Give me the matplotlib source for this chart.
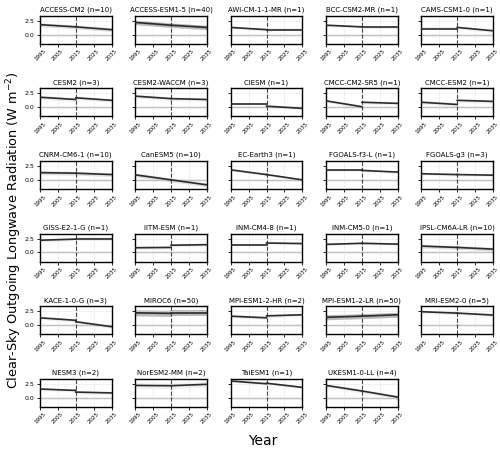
import matplotlib
matplotlib.use("Agg")
import matplotlib.pyplot as plt
import numpy as np

# model names and ensemble sizes
models = ["ACCESS-CM2", "ACCESS-ESM1-5", "AWI-CM-1-1-MR", "BCC-CSM2-MR", "CAMS-CSM1-0",
          "CESM2", "CESM2-WACCM", "CIESM", "CMCC-CM2-SR5", "CMCC-ESM2",
          "CNRM-CM6-1", "CanESM5", "EC-Earth3", "FGOALS-f3-L", "FGOALS-g3",
          "GISS-E2-1-G", "IITM-ESM", "INM-CM4-8", "INM-CM5-0", "IPSL-CM6A-LR",
          "KACE-1-0-G", "MIROC6", "MPI-ESM1-2-HR", "MPI-ESM1-2-LR", "MRI-ESM2-0",
          "NESM3", "NorESM2-MM", "TaiESM1", "UKESM1-0-LL"]
n_members = [10, 40, 1, 1, 1,
             3, 3, 1, 1, 1,
             10, 10, 1, 1, 3,
             1, 1, 1, 1, 10,
             3, 50, 2, 50, 5,
             2, 2, 1, 4]

# historical trend (1995 -> 2015) and projection trend (2015 -> 2035), W m-2
hist_start = [1.8, 2.2, 1.3, 1.7, 1.1,
              1.8, 2.0, 0.65, 1.15, 0.9,
              1.3, 0.9, 1.8, 1.7, 1.1,
              2.2, 0.85, 1.35, 1.45, 1.15,
              1.3, 2.2, 1.6, 1.4, 2.4,
              1.55, 2.2, 3.0, 2.2]
hist_end = [1.4, 1.7, 0.9, 1.4, 1.1,
            1.4, 1.55, 0.65, 0.1, 0.5,
            1.2, 0.0, 0.95, 1.7, 0.95,
            2.4, 0.9, 1.35, 1.65, 0.9,
            0.85, 2.1, 1.3, 1.6, 2.15,
            1.3, 2.15, 2.5, 1.2]
proj_start = [1.4, 1.7, 0.9, 1.3, 1.3,
              1.7, 1.55, 0.2, 0.9, 1.25,
              1.2, 0.0, 0.95, 1.7, 0.95,
              2.4, 1.3, 1.7, 1.65, 0.9,
              0.6, 2.1, 1.65, 1.6, 2.15,
              1.0, 2.15, 2.6, 1.2]
proj_end = [0.9, 1.3, 0.9, 1.3, 0.7,
            1.25, 1.4, -0.2, 0.7, 1.05,
            0.95, -0.9, 0.0, 1.4, 0.85,
            2.4, 1.4, 1.6, 1.5, 0.6,
            -0.3, 2.1, 1.85, 1.85, 1.8,
            0.85, 2.4, 1.85, 0.1]
# half-width of the grey ensemble envelope
spread = [0.35, 0.4, 0.25, 0.25, 0.3,
          0.35, 0.35, 0.2, 0.3, 0.35,
          0.35, 0.35, 0.2, 0.25, 0.25,
          0.3, 0.3, 0.2, 0.2, 0.35,
          0.3, 0.55, 0.3, 0.45, 0.3,
          0.3, 0.5, 0.2, 0.35]

years_hist = [1995, 2015]
years_proj = [2015, 2035]
xticks = [1995, 2005, 2015, 2025, 2035]

fig, axes = plt.subplots(6, 5, figsize=(5.0, 4.51), dpi=100, sharey=True)
fig.subplots_adjust(left=0.08, right=0.986, top=0.965, bottom=0.098,
                    wspace=0.333, hspace=1.59)

for i, ax in enumerate(axes.flat):
    if i >= len(models):
        ax.remove()
        continue
    h = [hist_start[i], hist_end[i]]
    p = [proj_start[i], proj_end[i]]
    dense = n_members[i] >= 40
    band_alpha = 0.55 if dense else (0.25 if n_members[i] >= 10 else 0.12)
    ax.fill_between(years_hist, np.array(h) - spread[i], np.array(h) + spread[i],
                    color="gray", alpha=band_alpha, lw=0)
    ax.fill_between(years_proj, np.array(p) - spread[i], np.array(p) + spread[i],
                    color="gray", alpha=band_alpha, lw=0)
    ax.axhline(0, color="#b0b0b0", lw=1.0, zorder=1)
    ax.plot(years_hist, h, color="#2b2b2b", lw=1.2, zorder=3)
    ax.plot(years_proj, p, color="#2b2b2b", lw=1.2, zorder=3)
    ax.axvline(2015, color="#444444", ls="--", lw=0.8, zorder=2)
    ax.set_xlim(1995, 2035)
    ax.set_ylim(-1.65, 3.4)
    ax.set_xticks(xticks)
    ax.set_xticklabels([str(t) for t in xticks], rotation=45, fontsize=4)
    ax.set_yticks([0.0, 2.5])
    ax.tick_params(axis="y", labelsize=4.5, length=2.5, width=0.6, pad=1.5)
    ax.tick_params(axis="x", length=2.5, width=0.6, pad=1)
    ax.grid(True, ls="--", lw=0.4, color="#dddddd")
    for s in ax.spines.values():
        s.set_linewidth(1.0)
        s.set_color("black")
    ax.set_title(f"{models[i]} (n={n_members[i]})", fontsize=5, pad=3)

fig.text(0.028, 0.49, "Clear-Sky Outgoing Longwave Radiation (W m$^{-2}$)",
         rotation=90, ha="center", va="center", fontsize=9.3)
fig.text(0.525, 0.022, "Year", ha="center", va="center", fontsize=10)

fig.savefig("out.png", dpi=100)
